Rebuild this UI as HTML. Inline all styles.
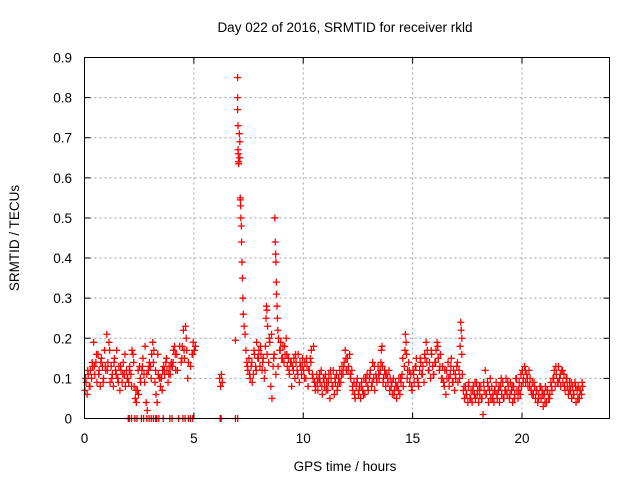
<!DOCTYPE html>
<html><head><meta charset="utf-8"><style>
body{margin:0;background:#fff}
svg{display:block;font-family:"Liberation Sans",sans-serif}
</style></head><body>
<svg id="chart" width="640" height="480" viewBox="0 0 640 480">
<text x="345" y="32" font-size="13.5" text-anchor="middle" fill="#000">Day 022 of 2016, SRMTID for receiver rkld</text>
<text transform="translate(19,238) rotate(-90)" font-size="13.5" text-anchor="middle" fill="#000">SRMTID / TECUs</text>
<text x="345" y="471" font-size="13.5" text-anchor="middle" fill="#000">GPS time / hours</text>
<g id="grid"></g>
<g id="ticks"></g>
<g id="marks"></g>
<rect x="84.5" y="57.5" width="525" height="361" fill="none" stroke="#000" stroke-width="1"/>
</svg>
<script>
const xTicks=[0,5,10,15,20];
const yTicks=[0,0.1,0.2,0.3,0.4,0.5,0.6,0.7,0.8,0.9];
const hours=[
0.02,0.07,0.12,0.17,0.22,0.27,0.32,0.37,0.42,0.47,
0.52,0.57,0.62,0.67,0.72,0.77,0.82,0.87,0.92,0.97,
1.02,1.07,1.12,1.17,1.22,1.27,1.32,1.37,1.42,1.47,
1.52,1.57,1.62,1.67,1.72,1.77,1.82,1.87,1.92,1.97,
2.02,2.07,2.12,2.17,2.22,2.27,2.32,2.37,2.42,2.47,
2.52,2.57,2.62,2.67,2.72,2.77,2.82,2.87,2.92,2.97,
3.02,3.07,3.12,3.17,3.22,3.27,3.32,3.37,3.42,3.47,
3.52,3.57,3.62,3.67,3.72,3.77,3.82,3.87,3.92,3.97,
4.02,4.07,4.12,4.17,4.22,4.42,4.47,4.52,4.57,4.62,
4.67,4.72,4.92,4.97,5.02,5.07,
2.0,2.05,2.15,2.3,2.4,2.6,2.7,2.85,2.95,3.05,
3.15,3.25,3.3,3.4,3.6,3.9,4.0,4.3,4.5,4.6,
4.75,4.85,4.95,6.2,6.25,6.9,7.0,
6.18,6.22,6.26,6.30,6.9,7.0,7.0,7.0,7.02,7.02,
7.03,7.04,7.05,7.08,7.1,7.1,7.12,7.13,7.14,7.15,
7.17,7.18,7.2,7.22,7.24,7.26,7.3,7.34,7.38,7.42,
7.47,7.52,7.57,7.62,7.67,7.72,7.77,7.82,7.87,7.92,
7.97,8.02,8.07,8.12,8.17,8.22,8.27,8.3,8.32,8.34,
8.37,8.42,8.47,8.52,8.57,8.62,8.67,8.7,8.72,8.74,
8.75,8.77,8.78,8.8,8.82,8.84,8.87,8.92,8.97,9.02,
9.07,9.12,9.17,9.22,9.27,9.32,9.37,9.42,9.47,9.52,
9.57,9.62,9.67,9.72,9.77,9.82,9.87,9.92,9.97,10.02,
10.07,10.12,10.17,10.22,10.27,10.32,10.37,10.42,10.47,10.52,
10.57,10.62,10.67,10.72,10.77,10.82,10.87,10.92,10.97,11.02,
11.07,11.12,11.17,11.22,11.27,11.32,11.37,11.42,11.47,11.52,
11.57,11.62,11.67,11.72,11.77,11.82,11.87,11.92,11.97,12.02,
12.07,12.12,12.17,12.22,12.27,12.32,12.37,12.42,12.47,12.52,
12.57,12.62,12.67,12.72,12.77,12.82,12.87,12.92,12.97,13.02,
13.07,13.12,13.17,13.22,13.27,13.32,13.37,13.42,13.47,13.52,
13.57,13.6,13.62,13.67,13.72,13.77,13.82,13.87,13.92,13.97,
14.02,14.07,14.12,14.17,14.22,14.27,14.32,14.37,14.42,14.47,
14.52,14.57,14.62,14.67,14.7,14.72,14.77,14.82,14.87,14.92,
14.97,15.02,15.07,15.12,15.17,15.22,15.27,15.32,15.37,15.42,
15.47,15.52,15.57,15.62,15.67,15.72,15.77,15.82,15.87,15.92,
15.97,16.02,16.07,16.12,16.17,16.22,16.27,16.32,16.37,16.42,
16.47,16.52,16.57,16.62,16.67,16.72,16.77,16.82,16.87,16.92,
16.97,17.02,17.07,17.12,17.17,17.2,17.22,17.25,17.27,17.32,
17.37,17.42,17.47,17.52,17.57,17.62,17.67,17.72,17.77,17.82,
17.87,17.92,17.97,18.02,18.07,18.12,18.17,18.22,18.27,18.32,
18.37,18.42,18.47,18.52,18.57,18.62,18.67,18.72,18.77,18.82,
18.87,18.92,18.97,19.02,19.07,19.12,19.17,19.22,19.27,19.32,
19.37,19.42,19.47,19.52,19.57,19.62,19.67,19.72,19.77,19.82,
19.87,19.92,19.97,20.02,20.07,20.12,20.17,20.22,20.27,20.32,
20.37,20.42,20.47,20.52,20.57,20.62,20.67,20.72,20.77,20.82,
20.87,20.92,20.97,21.02,21.07,21.12,21.17,21.22,21.27,21.32,
21.37,21.42,21.47,21.52,21.57,21.62,21.67,21.72,21.77,21.82,
21.87,21.92,21.97,22.02,22.07,22.12,22.17,22.22,22.27,22.32,
22.37,22.42,22.47,22.52,22.57,22.62,22.67,22.72,22.77];
const srmtid=[
0.07,0.09,0.06,0.11,0.08,0.12,0.10,0.13,0.19,0.11,
0.14,0.09,0.16,0.12,0.08,0.15,0.13,0.10,0.17,0.12,
0.21,0.14,0.19,0.09,0.13,0.11,0.08,0.15,0.12,0.17,
0.10,0.13,0.07,0.12,0.09,0.14,0.11,0.08,0.12,0.10,
0.09,0.13,0.11,0.17,0.16,0.08,0.05,0.04,0.07,0.06,
0.13,0.09,0.12,0.15,0.11,0.18,0.04,0.02,0.12,0.14,
0.13,0.16,0.19,0.17,0.09,0.06,0.04,0.11,0.10,0.08,
0.10,0.12,0.13,0.11,0.14,0.12,0.09,0.13,0.11,0.14,
0.13,0.17,0.18,0.12,0.16,0.14,0.18,0.22,0.15,0.23,
0.17,0.10,0.16,0.19,0.17,0.18,
0,0,0,0,0,0,0,0,0,0,
0,0,0,0,0,0,0,0,0,0,
0,0,0,0,0,0,0,
0.10,0.08,0.11,0.09,0.195,0.85,0.80,0.77,0.73,0.67,
0.66,0.64,0.635,0.71,0.69,0.65,0.55,0.545,0.53,0.50,
0.48,0.44,0.39,0.35,0.30,0.26,0.23,0.21,0.17,0.14,
0.12,0.15,0.10,0.13,0.09,0.11,0.16,0.13,0.19,0.15,
0.17,0.13,0.16,0.12,0.15,0.10,0.18,0.25,0.28,0.27,
0.23,0.14,0.19,0.08,0.05,0.13,0.16,0.50,0.44,0.41,
0.39,0.34,0.31,0.28,0.25,0.22,0.20,0.17,0.19,0.15,
0.18,0.14,0.16,0.20,0.13,0.15,0.11,0.14,0.08,0.13,
0.15,0.10,0.14,0.12,0.16,0.09,0.13,0.11,0.15,0.12,
0.14,0.10,0.13,0.08,0.12,0.15,0.17,0.11,0.18,0.09,
0.08,0.11,0.07,0.10,0.09,0.12,0.06,0.10,0.08,0.11,
0.09,0.07,0.11,0.05,0.10,0.08,0.12,0.06,0.09,0.11,
0.08,0.10,0.12,0.09,0.13,0.11,0.14,0.17,0.12,0.15,
0.13,0.16,0.10,0.12,0.07,0.09,0.05,0.08,0.10,0.06,
0.08,0.05,0.09,0.07,0.10,0.06,0.09,0.11,0.07,0.10,
0.12,0.08,0.14,0.10,0.07,0.11,0.09,0.13,0.10,0.12,
0.17,0.18,0.13,0.10,0.12,0.08,0.11,0.09,0.12,0.10,
0.08,0.06,0.10,0.07,0.09,0.05,0.08,0.10,0.06,0.09,
0.11,0.08,0.13,0.21,0.19,0.16,0.12,0.14,0.09,0.11,
0.07,0.12,0.09,0.13,0.15,0.10,0.08,0.12,0.14,0.11,
0.13,0.09,0.15,0.19,0.17,0.12,0.14,0.10,0.16,0.13,
0.11,0.14,0.17,0.19,0.15,0.12,0.16,0.10,0.13,0.09,
0.12,0.06,0.10,0.14,0.08,0.11,0.15,0.09,0.12,0.07,
0.10,0.13,0.09,0.12,0.18,0.24,0.22,0.16,0.11,0.07,
0.05,0.08,0.06,0.04,0.09,0.05,0.07,0.04,0.08,0.06,
0.05,0.09,0.07,0.04,0.06,0.08,0.05,0.01,0.07,0.12,
0.06,0.09,0.04,0.07,0.05,0.08,0.06,0.04,0.07,0.09,
0.05,0.07,0.04,0.08,0.06,0.09,0.05,0.07,0.10,0.06,
0.08,0.05,0.09,0.07,0.04,0.08,0.06,0.10,0.07,0.05,
0.09,0.06,0.08,0.12,0.10,0.13,0.09,0.11,0.08,0.12,
0.10,0.07,0.09,0.06,0.08,0.05,0.07,0.04,0.06,0.08,
0.05,0.07,0.03,0.06,0.08,0.04,0.07,0.05,0.06,0.09,
0.07,0.10,0.12,0.08,0.11,0.09,0.13,0.10,0.08,0.12,
0.09,0.11,0.07,0.10,0.08,0.06,0.09,0.07,0.05,0.08,
0.06,0.09,0.04,0.07,0.08,0.05,0.07,0.06,0.08];
const hoursB=[
0.05,0.15,0.25,0.35,0.45,0.55,0.65,0.75,0.85,0.95,
1.05,1.15,1.25,1.35,1.45,1.55,1.65,1.75,1.85,1.95,
2.05,2.15,2.25,2.35,2.45,2.55,2.65,2.75,2.85,2.95,
3.05,3.15,3.25,3.35,3.45,3.55,3.65,3.75,3.85,3.95,
4.05,4.15,4.25,4.35,4.45,4.55,4.65,4.75,4.85,4.95,
7.45,7.55,7.65,7.75,7.85,7.95,8.05,8.15,8.25,8.35,
8.45,8.55,8.65,8.75,8.85,8.95,9.05,9.15,9.25,9.35,
9.45,9.55,9.65,9.75,9.85,9.95,10.05,10.15,10.25,10.35,
10.45,10.55,10.65,10.75,10.85,10.95,11.05,11.15,11.25,11.35,
11.45,11.55,11.65,11.75,11.85,11.95,12.05,12.15,12.25,12.35,
12.45,12.55,12.65,12.75,12.85,12.95,13.05,13.15,13.25,13.35,
13.45,13.55,13.65,13.75,13.85,13.95,14.05,14.15,14.25,14.35,
14.45,14.55,14.65,14.75,14.85,14.95,15.05,15.15,15.25,15.35,
15.45,15.55,15.65,15.75,15.85,15.95,16.05,16.15,16.25,16.35,
16.45,16.55,16.65,16.75,16.85,16.95,17.05,17.15,17.25,17.35,
17.45,17.55,17.65,17.75,17.85,17.95,18.05,18.15,18.25,18.35,
18.45,18.55,18.65,18.75,18.85,18.95,19.05,19.15,19.25,19.35,
19.45,19.55,19.65,19.75,19.85,19.95,20.05,20.15,20.25,20.35,
20.45,20.55,20.65,20.75,20.85,20.95,21.05,21.15,21.25,21.35,
21.45,21.55,21.65,21.75,21.85,21.95,22.05,22.15,22.25,22.35,
22.45,22.55,22.65,22.75];
const srmtidB=[
0.10,0.12,0.08,0.14,0.13,0.16,0.11,0.14,0.09,0.13,
0.12,0.17,0.10,0.14,0.11,0.09,0.13,0.11,0.16,0.10,
0.12,0.08,0.14,0.07,0.12,0.10,0.13,0.09,0.11,0.13,
0.10,0.14,0.12,0.16,0.10,0.07,0.12,0.15,0.11,0.13,
0.14,0.16,0.12,0.18,0.15,0.17,0.20,0.14,0.13,0.16,
0.13,0.11,0.14,0.17,0.12,0.15,0.18,0.14,0.12,0.16,
0.20,0.21,0.15,0.11,0.13,0.17,0.15,0.18,0.16,0.12,
0.14,0.12,0.16,0.11,0.14,0.13,0.10,0.15,0.12,0.14,
0.10,0.07,0.09,0.11,0.08,0.10,0.07,0.09,0.12,0.08,
0.10,0.07,0.09,0.11,0.13,0.15,0.12,0.11,0.08,0.06,
0.09,0.07,0.08,0.06,0.10,0.08,0.11,0.09,0.13,0.10,
0.11,0.14,0.09,0.11,0.10,0.07,0.09,0.06,0.08,0.07,
0.10,0.15,0.17,0.10,0.12,0.08,0.11,0.13,0.09,0.15,
0.11,0.16,0.14,0.12,0.17,0.11,0.14,0.18,0.13,0.10,
0.08,0.12,0.10,0.13,0.09,0.11,0.14,0.10,0.20,0.08,
0.06,0.08,0.05,0.07,0.09,0.06,0.08,0.05,0.09,0.06,
0.08,0.10,0.05,0.07,0.06,0.08,0.10,0.05,0.07,0.09,
0.06,0.08,0.05,0.10,0.07,0.11,0.09,0.12,0.10,0.08,
0.06,0.09,0.07,0.05,0.08,0.06,0.04,0.07,0.05,0.08,
0.10,0.13,0.09,0.11,0.12,0.08,0.10,0.07,0.09,0.06,
0.08,0.05,0.07,0.09];

const NS='http://www.w3.org/2000/svg';
const X0=84.5,X1=609.5,Y0=418.5,Y1=57.5;
function xs(h){return X0+(h/24)*(X1-X0);}
function ys(v){return Y0-(v/0.9)*(Y0-Y1);}
function mk(tag,attrs){const e=document.createElementNS(NS,tag);for(const k in attrs)e.setAttribute(k,attrs[k]);return e;}
const grid=document.getElementById('grid'),ticks=document.getElementById('ticks'),marks=document.getElementById('marks');
xTicks.forEach(t=>{
  const x=xs(t);
  if(t>0){const g=mk('line',{x1:x,x2:x,y1:Y1,y2:Y0,stroke:'#a0a0a0','stroke-dasharray':'2,3'});
  
  
  grid.appendChild(g);}
  const tk=mk('path',{d:`M${x},${Y0}v-6M${x},${Y1}v6`,stroke:'#000'});
  
  
  ticks.appendChild(tk);
  const lb=mk('text',{x:x,y:443,'font-size':'13.5','text-anchor':'middle',fill:'#000'});
  lb.textContent=String(t);
  
  
  ticks.appendChild(lb);
});
yTicks.forEach(t=>{
  const y=ys(t);
  if(t>0){const g=mk('line',{x1:X0,x2:X1,y1:y,y2:y,stroke:'#a0a0a0','stroke-dasharray':'2,3'});
  
  
  grid.appendChild(g);}
  const tk=mk('path',{d:`M${X0},${y}h6M${X1},${y}h-6`,stroke:'#000'});
  
  
  ticks.appendChild(tk);
  const lb=mk('text',{x:72,y:y+5,'font-size':'13.5','text-anchor':'end',fill:'#000'});
  lb.textContent=t===0?'0':t.toFixed(1);
  
  
  ticks.appendChild(lb);
});
function plus(hs,vs){
  let d='';
  for(let i=0;i<hs.length;i++){
    const x=xs(hs[i]),y=ys(vs[i]);
    d+=`M${x-3.5},${y}h7M${x},${y-3.5}v7`;
  }
  return d;
}
const p=mk('path',{d:plus(hours,srmtid)+plus(hoursB,srmtidB),stroke:'#ff0000','stroke-width':'1.3',fill:'none'});


marks.appendChild(p);
</script>
</body></html>
